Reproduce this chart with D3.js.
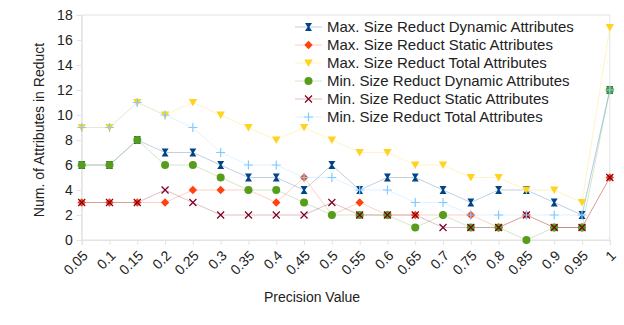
<!DOCTYPE html>
<html>
<head>
<meta charset="utf-8">
<script src="https://cdn.jsdelivr.net/npm/d3@7/dist/d3.min.js"></script>
<style>
  body { margin: 0; background: #fff; }
  text { font-family: "Liberation Sans", Arial, sans-serif; fill: #222; }
</style>
</head>
<body>
<div id="chart"></div>
<script>
var categories = ["0.05","0.1","0.15","0.2","0.25","0.3","0.35","0.4","0.45","0.5",
                  "0.55","0.6","0.65","0.7","0.75","0.8","0.85","0.9","0.95","1"];
var maxDynamic = [6,6,8,7,7,6,5,5,4,6,4,5,5,4,3,4,4,3,2,12];
var maxStatic  = [3,3,3,3,4,4,4,3,5,2,3,2,2,2,2,1,2,1,1,5];
var maxTotal   = [9,9,11,10,11,10,9,8,9,8,7,7,6,6,5,5,4,4,3,17];
var minDynamic = [6,6,8,6,6,5,4,4,3,2,2,2,1,2,1,1,0,1,1,12];
var minStatic  = [3,3,3,4,3,2,2,2,2,3,2,2,2,1,1,1,2,1,1,5];
var minTotal   = [9,9,11,10,9,7,6,6,5,5,4,4,3,3,2,2,2,2,2,12];
var seriesNames = ["Max. Size Reduct Dynamic Attributes","Max. Size Reduct Static Attributes",
                   "Max. Size Reduct Total Attributes","Min. Size Reduct Dynamic Attributes",
                   "Min. Size Reduct Static Attributes","Min. Size Reduct Total Attributes"];
var yTicks = [0,2,4,6,8,10,12,14,16,18];

var width = 624, height = 325;
var plotLeft = 81.7, plotRight = 609.8, plotTop = 15, plotBottom = 240;

var svg = d3.select("#chart").append("svg")
    .attr("width", width)
    .attr("height", height);

var x = d3.scalePoint().domain(categories).range([plotLeft, plotRight]);
var y = d3.scaleLinear().domain([0, 18]).range([plotBottom, plotTop]);

// plot frame
svg.append("rect")
    .attr("x", plotLeft).attr("y", plotTop)
    .attr("width", plotRight - plotLeft).attr("height", plotBottom - plotTop)
    .attr("fill", "none").attr("stroke", "#e3e3e3");

var yAxis = svg.append("g")
    .attr("transform", "translate(" + plotLeft + ",0)")
    .call(d3.axisLeft(y).tickValues(yTicks).tickSize(5).tickPadding(4));
yAxis.selectAll("text").style("font-size", "14px");

var xAxis = svg.append("g")
    .attr("transform", "translate(0," + plotBottom + ")")
    .call(d3.axisBottom(x).tickSize(5).tickPadding(0));
xAxis.selectAll("text")
    .style("font-size", "14px")
    .attr("text-anchor", "end")
    .attr("dy", "0.35em")
    .attr("transform", "translate(3,13) rotate(-45)")
    .attr("y", 0).attr("x", 0);

svg.selectAll(".domain, .tick line").attr("stroke", "#e3e3e3");

svg.append("text")
    .attr("transform", "translate(44,130) rotate(-90)")
    .attr("text-anchor", "middle")
    .style("font-size", "14px")
    .text("Num. of Attributes in Reduct");

svg.append("text")
    .attr("x", 312).attr("y", 302)
    .attr("text-anchor", "middle")
    .style("font-size", "14px")
    .text("Precision Value");

var colors = ["#004586","#ff420e","#ffd320","#579d1c","#7e0021","#83caff"];
var shapes = [
  "M-3.5,-4L3.5,-4L0.9,0L3.5,4L-3.5,4L-0.9,0Z",
  "M0,-4.2L4.2,0L0,4.2L-4.2,0Z",
  "M-4.2,-3.5L4.2,-3.5L0,4Z",
  "circle",
  "M-3.5,-3.5L3.5,3.5M3.5,-3.5L-3.5,3.5",
  "M-4.5,0L4.5,0M0,-4.5L0,4.5"
];
var allSeries = [maxDynamic, maxStatic, maxTotal, minDynamic, minStatic, minTotal];

function drawMarker(g, i) {
  if (shapes[i] === "circle") {
    g.append("circle").attr("r", 4).attr("fill", colors[i]);
  } else if (i >= 4) {
    g.append("path").attr("d", shapes[i]).attr("fill", "none")
      .attr("stroke", colors[i]).attr("stroke-width", 1.2);
  } else {
    g.append("path").attr("d", shapes[i]).attr("fill", colors[i]);
  }
}

var line = d3.line()
    .x(function(d, j) { return x(categories[j]); })
    .y(function(d) { return y(d); });

allSeries.forEach(function(values, i) {
  svg.append("path")
      .datum(values)
      .attr("d", line)
      .attr("fill", "none")
      .attr("stroke", colors[i])
      .attr("stroke-opacity", 0.25)
      .attr("stroke-width", 1);
});

allSeries.forEach(function(values, i) {
  values.forEach(function(v, j) {
    var g = svg.append("g")
        .attr("transform", "translate(" + x(categories[j]) + "," + y(v) + ")");
    drawMarker(g, i);
  });
});

// legend
var legend = svg.append("g").attr("transform", "translate(295,27)");
seriesNames.forEach(function(name, i) {
  var row = legend.append("g").attr("transform", "translate(0," + (i * 18) + ")");
  row.append("line")
      .attr("x1", 0).attr("x2", 27)
      .attr("stroke", colors[i]).attr("stroke-opacity", 0.25);
  drawMarker(row.append("g").attr("transform", "translate(13.5,0)"), i);
  row.append("text")
      .attr("x", 32).attr("dy", "0.35em")
      .style("font-size", "15px")
      .text(name);
});
</script>
</body>
</html>
